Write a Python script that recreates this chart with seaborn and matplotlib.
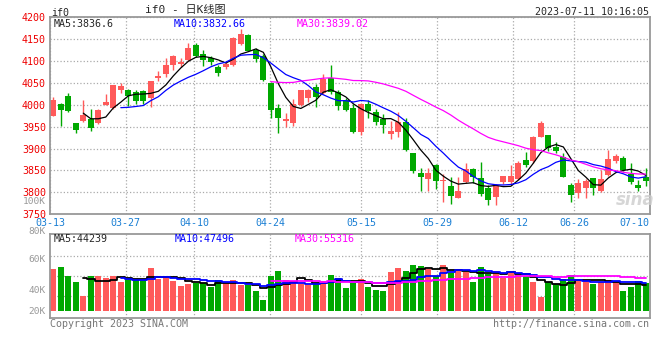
import numpy as np
import pandas as pd
import seaborn as sns
import matplotlib
matplotlib.use('Agg')
from matplotlib import pyplot as plt

sns.set_style('white')
plt.rcParams['font.family'] = ['DejaVu Sans Mono', 'Noto Sans CJK SC']
plt.rcParams['axes.unicode_minus'] = False

# 交易日 03-13 ~ 07-10 (去掉节假日)
holidays = ['2023-04-05', '2023-05-01', '2023-05-02', '2023-05-03', '2023-06-22', '2023-06-23']
days = pd.bdate_range('2023-03-13', '2023-07-10')
days = days[~days.isin(pd.to_datetime(holidays))]

open_ = [3974, 4001, 4020, 3958, 3963, 3968, 3958, 3999, 3992, 4035,
         4035, 4030, 4031, 4016, 4061, 4071, 4092, 4094, 4102, 4137,
         4117, 4107, 4086, 4086, 4092, 4139, 4160, 4126, 4112, 4050,
         3993, 3963, 3958, 3999, 4016, 4040, 4027, 4061, 4030, 4010,
         3992, 3938, 4001, 3983, 3968, 3934, 3938, 3961, 3889, 3844,
         3830, 3863, 3827, 3815, 3787, 3823, 3853, 3833, 3811, 3789,
         3823, 3823, 3830, 3874, 3872, 3927, 3930, 3904, 3880, 3817,
         3799, 3811, 3832, 3804, 3840, 3871, 3878, 3843, 3816, 3834]
high = [4017, 4004, 4026, 3958, 4010, 3991, 3991, 4024, 4046, 4049,
        4037, 4033, 4033, 4055, 4077, 4107, 4114, 4107, 4142, 4142,
        4126, 4111, 4092, 4099, 4156, 4174, 4162, 4130, 4117, 4052,
        4001, 3982, 4014, 4033, 4037, 4048, 4071, 4092, 4033, 4016,
        4001, 4005, 4011, 3991, 3978, 3962, 3984, 3969, 3890, 3855,
        3855, 3864, 3843, 3836, 3836, 3867, 3855, 3870, 3817, 3819,
        3838, 3862, 3872, 3892, 3929, 3963, 3931, 3915, 3889, 3821,
        3830, 3830, 3833, 3852, 3896, 3887, 3883, 3867, 3828, 3855]
low = [3974, 3952, 3983, 3935, 3960, 3940, 3956, 3999, 3990, 4026,
       3997, 4003, 4003, 3995, 4054, 4064, 4080, 4086, 4100, 4109,
       4088, 4092, 4065, 4083, 4090, 4138, 4124, 4097, 4054, 3971,
       3936, 3949, 3952, 3998, 4006, 3996, 4024, 4024, 3989, 3987,
       3935, 3931, 3971, 3955, 3935, 3921, 3926, 3895, 3844, 3802,
       3802, 3808, 3777, 3774, 3786, 3821, 3821, 3792, 3772, 3770,
       3819, 3819, 3829, 3859, 3868, 3927, 3895, 3891, 3834, 3779,
       3786, 3786, 3794, 3800, 3838, 3867, 3849, 3819, 3802, 3815]
close = [4012, 3989, 3986, 3942, 3976, 3948, 3989, 4006, 4046, 4042,
         4020, 4008, 4008, 4054, 4065, 4092, 4112, 4099, 4130, 4111,
         4102, 4097, 4074, 4094, 4154, 4162, 4124, 4105, 4056, 3989,
         3969, 3967, 4001, 4033, 4035, 4017, 4059, 4029, 3997, 3989,
         3938, 4003, 3986, 3961, 3953, 3940, 3961, 3897, 3849, 3836,
         3844, 3827, 3829, 3792, 3802, 3853, 3834, 3796, 3783, 3814,
         3838, 3838, 3867, 3863, 3927, 3959, 3902, 3895, 3836, 3794,
         3822, 3827, 3809, 3830, 3876, 3883, 3852, 3823, 3809, 3827]
volume = [70500, 74100, 59700, 48900, 25500, 59700, 59700, 56100, 59700, 48900,
          56100, 52500, 54300, 72300, 54300, 57900, 50700, 41700, 45800, 47100,
          47100, 39900, 52500, 47100, 52500, 43500, 43500, 34500, 18300, 59700,
          66900, 52500, 50700, 45300, 43500, 47100, 50700, 61500, 56100, 38100,
          46600, 54300, 39900, 36300, 34500, 65100, 72300, 66900, 78200, 75900,
          70500, 59700, 78200, 63800, 70500, 65100, 48900, 74100, 63300, 66900,
          56100, 65100, 61500, 59700, 48900, 23700, 48900, 45300, 54300, 61500,
          52500, 52500, 45300, 48900, 52500, 48900, 34500, 39900, 50700, 47100]

price_ticks = [3750, 3800, 3850, 3900, 3950, 4000, 4050, 4100, 4150, 4200]
grid_dates = ['03-27', '04-10', '04-24', '05-15', '05-29', '06-12', '06-26']
vol_labels = ['100K', '80K', '60K', '40K', '20K']

RED, GREEN = '#ff5a5a', '#00a800'
GRID = '#aaaaaa'

df = pd.DataFrame({'day': np.arange(len(days)), 'open': open_, 'high': high,
                   'low': low, 'close': close, 'volume': volume})
df['dir'] = np.where(df['close'] >= df['open'], 'up', 'down')
df['color'] = df['dir'].map({'up': RED, 'down': GREEN})
for n in (5, 10, 30):
    df[f'ma{n}'] = df['close'].rolling(n).mean()
    df[f'vma{n}'] = df['volume'].rolling(n).mean()

W, H = 660, 360
fig = plt.figure(figsize=(6.6, 3.6), dpi=100)


def fx(px):
    return px / W


def fy(py):
    return 1 - py / H


ax = fig.add_axes([fx(50), fy(214.2), fx(649.5) - fx(50), fy(17.4) - fy(214.2)])
axv = fig.add_axes([fx(50), fy(317.7), fx(649.5) - fx(50), fy(234.3) - fy(317.7)])

# K线
ax.vlines(df['day'], df['low'], df['high'], colors=df['color'], lw=1)
body = (df['close'] - df['open']).abs().clip(lower=1.5)
ax.bar(df['day'], body, bottom=df[['open', 'close']].min(axis=1),
       width=0.8, color=df['color'], linewidth=0)
sns.lineplot(data=df, x='day', y='ma5', ax=ax, color='black', lw=0.9)
sns.lineplot(data=df, x='day', y='ma10', ax=ax, color='#0000ff', lw=0.9)
sns.lineplot(data=df, x='day', y='ma30', ax=ax, color='#ff00ff', lw=0.9)

# 成交量
sns.barplot(data=df, x='day', y='volume', hue='dir', palette={'up': RED, 'down': GREEN},
            native_scale=True, dodge=False, width=0.8, errorbar=None, legend=False,
            saturation=1, linewidth=0, ax=axv)
sns.lineplot(data=df, x='day', y='vma5', ax=axv, color='black', lw=1.3, drawstyle='steps-mid')
sns.lineplot(data=df, x='day', y='vma10', ax=axv, color='#0000ff', lw=1.3, drawstyle='steps-mid')
sns.lineplot(data=df, x='day', y='vma30', ax=axv, color='#ff00ff', lw=1.3, drawstyle='steps-mid')

# sina 的竖网格比K线间距略宽
labels = days.strftime('%m-%d')
grid_x = [(list(labels).index(d) * 7.6 - 3.8) / 7.5 for d in grid_dates]
xmin, xmax = -0.44, 79.49

for a in (ax, axv):
    a.set_xlim(xmin, xmax)
    a.set_xlabel('')
    a.set_ylabel('')
    for s in a.spines.values():
        s.set_color('#999999')
        s.set_linewidth(1.3)
    a.tick_params(length=0)
    a.grid(True, ls=':', color=GRID, lw=0.9)

ax.set_ylim(3750, 4200)
ax.set_yticks(price_ticks, [str(t) for t in price_ticks])
ax.tick_params(axis='y', colors='#ee0000', labelsize=7.2, pad=3)
ax.set_xticks([xmin] + grid_x + [xmax], [labels[0]] + grid_dates + [labels[-1]])
ax.tick_params(axis='x', colors='#1a7fd4', labelsize=7.2, pad=2.5)
ax.get_xticklabels()[-1].set_horizontalalignment('right')

v_px = 1690  # 每像素手数
axv.set_ylim(-(317.7 - 311) * v_px, (311 - 234.3) * v_px)
axv.set_yticks([(311 - y) * v_px for y in (255.7, 275.7, 295.7)], [])
axv.set_xticks(grid_x, [])

fs = 7.2
fig.text(fx(51), fy(12.5), 'if0', fontsize=fs, va='center')
fig.text(fx(185), fy(10.5), 'if0 - 日K线图', fontsize=8, va='center', ha='center')
fig.text(fx(649), fy(12), '2023-07-11 10:16:05', fontsize=fs, va='center', ha='right')

fig.text(fx(54), fy(24), 'MA5:3836.6', fontsize=fs, va='center')
fig.text(fx(174), fy(24), 'MA10:3832.66', fontsize=fs, va='center', color='#0000ff')
fig.text(fx(297), fy(24), 'MA30:3839.02', fontsize=fs, va='center', color='#ff00ff')

fig.text(fx(54), fy(238.5), 'MA5:44239', fontsize=fs, va='center')
fig.text(fx(175), fy(238.5), 'MA10:47496', fontsize=fs, va='center', color='#0000ff')
fig.text(fx(295), fy(238.5), 'MA30:55316', fontsize=fs, va='center', color='#ff00ff')

for lab, y in zip(vol_labels, (201, 231.5, 259, 290.5, 311.5)):
    fig.text(fx(46), fy(y), lab, fontsize=6.8, va='center', ha='right', color='#999999')

fig.text(fx(50), fy(324), 'Copyright 2023 SINA.COM', fontsize=fs, va='center', color='#777777')
fig.text(fx(649), fy(324), 'http://finance.sina.com.cn', fontsize=fs, va='center', ha='right',
         color='#777777')
fig.text(fx(635), fy(200), 'sina', fontsize=12, va='center', ha='center', color='#cccccc',
         family='DejaVu Sans', fontstyle='italic', fontweight='bold', alpha=0.8)

fig.savefig('out.png', dpi=100)
